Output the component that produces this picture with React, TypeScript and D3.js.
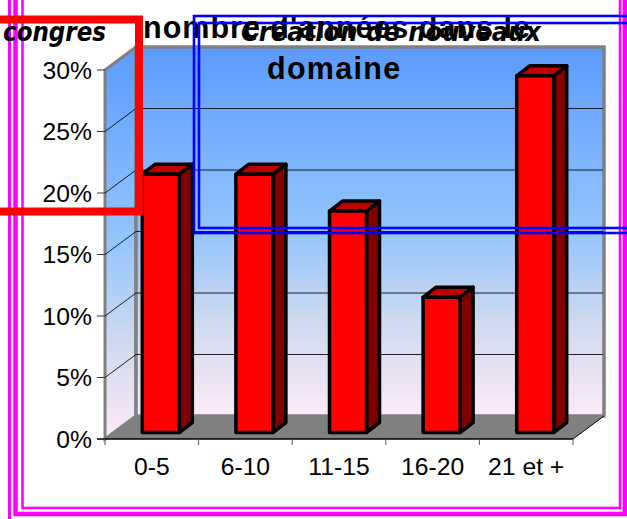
import React from "react";
import * as d3 from "d3";

const categories = ["0-5", "6-10", "11-15", "16-20", "21 et +"];
const shares = [0.21, 0.21, 0.18, 0.11, 0.29];
const yTicks = [0, 0.05, 0.1, 0.15, 0.2, 0.25, 0.3];
const titleLines = ["nombre d'années dans le", "domaine"];
const overlayHeading = "Création de nouveaux";
const overlayTag = "congres";

const W = 627;
const H = 519;
const DX = 31;
const DY = 23;
const BAR_DX = 13;
const BAR_DY = 10;
const BAR_W = 37;
const SANS = "'Liberation Sans', Arial, sans-serif";
const COMIC = "'DejaVu Sans', sans-serif";

const x = d3.scaleBand<string>().domain(categories).range([105, 573]);
const y = d3.scaleLinear().domain([0, 0.3]).range([439, 70]);
const line = d3.line<[number, number]>();

const barBase = y(0) - 6.5;
const barY = (v: number) => barBase - (y(0) - y(v));

export default function App() {
  const x0 = 105;
  const x1 = 573;
  const y0 = y(0);
  const yTop = y(0.3);
  const pageTicks = x.domain().map((c) => x(c) as number).concat(x1);
  return (
    <svg width={W} height={H} viewBox={`0 0 ${W} ${H}`} style={{ position: "absolute", left: 0, top: 0, background: "#fff" }}>
      <defs>
        <linearGradient id="wall" x1="0" y1="0" x2="0" y2="1">
          <stop offset="0" stopColor="#5b9bff" />
          <stop offset="0.5" stopColor="#94c5fc" />
          <stop offset="0.75" stopColor="#cfdaee" />
          <stop offset="1" stopColor="#fdeaf8" />
        </linearGradient>
      </defs>

      {/* walls */}
      <path d={line([[x0, yTop], [x0 + DX, yTop - DY], [x0 + DX, y0 - DY], [x0, y0]])! + "Z"} fill="url(#wall)" stroke="#808080" strokeWidth={3} />
      <rect x={x0 + DX} y={yTop - DY} width={x1 - x0} height={y0 - yTop} fill="url(#wall)" stroke="#808080" strokeWidth={3.5} />

      {/* floor */}
      <path d={line([[x0, y0], [x0 + DX, y0 - DY], [x1 + DX, y0 - DY], [x1, y0]])! + "Z"} fill="#808080" />
      <path d={line([[x1, y0], [x1 + DX, y0 - DY]])!} stroke="#000" strokeWidth={1} fill="none" />

      {/* grid */}
      {yTicks.slice(1, -1).map((t) => (
        <path key={t} d={line([[x0, y(t)], [x0 + DX, y(t) - DY], [x1 + DX - 1, y(t) - DY]])!} fill="none" stroke="#000" strokeWidth={1} opacity={0.85} />
      ))}

      {/* bars */}
      {categories.map((c, i) => {
        const left = (x(c) as number) + x.bandwidth() / 2 + 9 - BAR_W / 2;
        const right = left + BAR_W;
        const top = barY(shares[i]);
        return (
          <g key={c} stroke="#000" strokeWidth={3.5} strokeLinejoin="round">
            <path d={line([[right, top], [right + BAR_DX, top - BAR_DY], [right + BAR_DX, barBase - BAR_DY], [right, barBase]])! + "Z"} fill="#800000" />
            <path d={line([[left, top], [left + BAR_DX, top - BAR_DY], [right + BAR_DX, top - BAR_DY], [right, top]])! + "Z"} fill="#c00000" />
            <rect x={left} y={top} width={BAR_W} height={barBase - top} fill="#ff0000" />
          </g>
        );
      })}

      {/* axes */}
      <path d={line([[x0 - 8, y0], [x1, y0]])!} stroke="#000" strokeWidth={1.5} fill="none" />
      {yTicks.map((t) => (
        <g key={t}>
          <path d={line([[x0 - 8, y(t)], [x0, y(t)]])!} stroke="#333" strokeWidth={1} fill="none" />
          <text x={92} y={y(t) + 8.5} textAnchor="end" fontFamily={SANS} fontSize={24.7} fill="#000">
            {d3.format(".0%")(t)}
          </text>
        </g>
      ))}
      {pageTicks.map((t) => (
        <path key={t} d={line([[t, y0], [t, y0 + 6]])!} stroke="#555" strokeWidth={1} fill="none" />
      ))}
      {categories.map((c) => (
        <text key={c} x={(x(c) as number) + x.bandwidth() / 2} y={475} textAnchor="middle" fontFamily={SANS} fontSize={24.7} fill="#000">
          {c}
        </text>
      ))}

      {/* title */}
      <text x={143} y={38} fontFamily={SANS} fontWeight="bold" fontSize={30.5} letterSpacing={1} fill="#000">
        {titleLines[0]}
      </text>
      <text x={267} y={79} fontFamily={SANS} fontWeight="bold" fontSize={30.5} letterSpacing={1.3} fill="#000">
        {titleLines[1]}
      </text>

      {/* overlay frames */}
      <g fill="none" stroke="#ff00ff">
        <rect x={9.5} y={-20} width={660} height={600} strokeWidth={3} />
        <rect x={15.5} y={-20} width={609.3} height={534} strokeWidth={4.5} />
        <rect x={22.5} y={-20} width={597.5} height={528} strokeWidth={2.6} />
      </g>
      <rect x={-20} y={19.5} width={159} height={192} fill="none" stroke="#ff0000" strokeWidth={8} />
      <g fill="none" stroke="#0000ff" strokeWidth={2.6}>
        <rect x={194} y={16} width={480} height={217} />
        <rect x={199} y={23} width={480} height={205} />
      </g>

      <text x={3} y={41} fontFamily={COMIC} fontWeight="bold" fontStyle="italic" fontSize={27} textLength={103} lengthAdjust="spacingAndGlyphs" fill="#000">
        {overlayTag}
      </text>
      <text x={241} y={41} fontFamily={COMIC} fontWeight="bold" fontStyle="italic" fontSize={27} textLength={300} lengthAdjust="spacingAndGlyphs" fill="#000">
        {overlayHeading}
      </text>
    </svg>
  );
}
